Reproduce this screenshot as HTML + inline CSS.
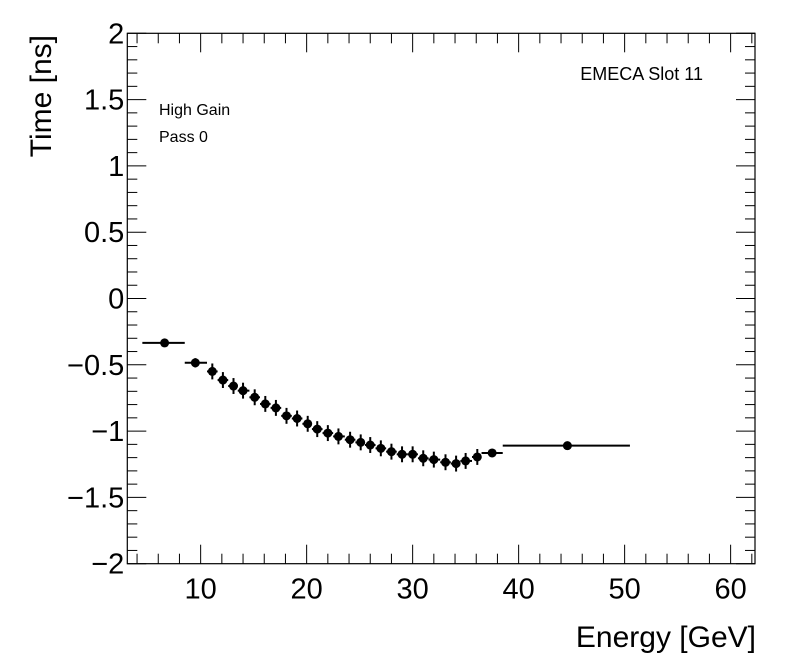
<!DOCTYPE html>
<html><head><meta charset="utf-8"><style>
html,body{margin:0;padding:0;background:#fff;}
svg{display:block;font-family:"Liberation Sans",sans-serif;}
</style></head><body>
<svg id="chart" width="796" height="672" viewBox="0 0 796 672" xmlns="http://www.w3.org/2000/svg">
<rect x="0" y="0" width="796" height="672" fill="#fff"/>
<g id="axes"></g>
<g id="marks"></g>
<text x="703" y="80" font-size="18" text-anchor="end">EMECA Slot 11</text>
<text x="159" y="115" font-size="16">High Gain</text>
<text x="159" y="142" font-size="16">Pass 0</text>
<text x="756" y="647" font-size="30" text-anchor="end">Energy [GeV]</text>
<text transform="translate(51,35) rotate(-90)" font-size="30" text-anchor="end">Time [ns]</text>
</svg>
<script>
const energies = [6.6, 9.5, 11.1, 12.1, 13.1, 14.0, 15.1, 16.1, 17.1, 18.1, 19.1, 20.1, 21.0, 22.0, 23.0, 24.1, 25.1, 26.0, 27.0, 28.0, 29.0, 30.0, 31.0, 32.0, 33.1, 34.1, 35.0, 36.1, 37.5, 44.6];
const times = [-0.335, -0.485, -0.55, -0.615, -0.66, -0.695, -0.745, -0.795, -0.825, -0.885, -0.905, -0.945, -0.985, -1.015, -1.04, -1.065, -1.085, -1.105, -1.13, -1.155, -1.175, -1.175, -1.205, -1.215, -1.235, -1.245, -1.225, -1.195, -1.165, -1.11];
const xLow = [4.5, 8.5, 10.6, 11.6, 12.6, 13.5, 14.6, 15.6, 16.6, 17.6, 18.6, 19.6, 20.5, 21.5, 22.5, 23.6, 24.6, 25.5, 26.5, 27.5, 28.5, 29.5, 30.5, 31.5, 32.6, 33.6, 34.5, 35.6, 36.5, 38.5];
const xHigh = [8.5, 10.6, 11.6, 12.6, 13.5, 14.6, 15.6, 16.6, 17.6, 18.6, 19.6, 20.5, 21.5, 22.5, 23.6, 24.6, 25.5, 26.5, 27.5, 28.5, 29.5, 30.5, 31.5, 32.6, 33.6, 34.5, 35.6, 36.5, 38.5, 50.5];
const yErr = [0.02, 0.035, 0.06, 0.06, 0.06, 0.06, 0.06, 0.06, 0.06, 0.06, 0.06, 0.06, 0.06, 0.06, 0.06, 0.06, 0.06, 0.06, 0.06, 0.06, 0.06, 0.06, 0.06, 0.06, 0.06, 0.06, 0.06, 0.06, 0.03, 0.02];
const xTicks = [10, 20, 30, 40, 50, 60];
const yTicks = [-2, -1.5, -1, -0.5, 0, 0.5, 1, 1.5, 2];
const yTickLabels = ["\u22122", "\u22121.5", "\u22121", "\u22120.5", "0", "0.5", "1", "1.5", "2"];

const L = 127.3, R = 755, T = 33.3, B = 563.7;
const XMIN = 3.08, XMAX = 62.3, YMIN = -2, YMAX = 2;
function sx(v){ return L + (v - XMIN) / (XMAX - XMIN) * (R - L); }
function sy(v){ return B - (v - YMIN) / (YMAX - YMIN) * (B - T); }
const NS = "http://www.w3.org/2000/svg";
function mk(tag, attrs, parent){ const e = document.createElementNS(NS, tag); for (const k in attrs) e.setAttribute(k, attrs[k]); parent.appendChild(e); return e; }
const axes = document.getElementById('axes');
const marks = document.getElementById('marks');

const frame = mk('rect', {x:L, y:T, width:R-L, height:B-T, fill:'none', stroke:'#000', 'stroke-width':1.2}, axes);



for (let v = 4; v <= 62; v += 2) {
  const major = v % 10 === 0;
  const len = major ? 19 : 10;
  const t1 = mk('line', {x1:sx(v), x2:sx(v), y1:B, y2:B-len, stroke:'#000', 'stroke-width':1}, axes);
  
  
  const t2 = mk('line', {x1:sx(v), x2:sx(v), y1:T, y2:T+len, stroke:'#000', 'stroke-width':1}, axes);
  
  
}
xTicks.forEach(v => {
  const t = mk('text', {x:sx(v), y:B+35, 'font-size':29, 'text-anchor':'middle'}, axes);
  t.textContent = v;
  
  
});
for (let i = -20; i <= 20; i++) {
  const v = i / 10;
  const major = i % 5 === 0;
  const len = major ? 19 : 10;
  const t1 = mk('line', {x1:L, x2:L+len, y1:sy(v), y2:sy(v), stroke:'#000', 'stroke-width':1}, axes);
  
  
  const t2 = mk('line', {x1:R, x2:R-len, y1:sy(v), y2:sy(v), stroke:'#000', 'stroke-width':1}, axes);
  
  
}
yTicks.forEach((v, i) => {
  const t = mk('text', {x:L-3, y:sy(v)+10, 'font-size':29, 'text-anchor':'end'}, axes);
  t.textContent = yTickLabels[i];
  
  
});

energies.forEach((e, i) => {
  const g = mk('g', {}, marks);
  
  
  const cx = sx(e), cy = sy(times[i]);
  mk('line', {x1:sx(xLow[i]), x2:sx(xHigh[i]), y1:cy, y2:cy, stroke:'#000', 'stroke-width':2}, g);
  mk('line', {x1:cx, x2:cx, y1:sy(times[i]-yErr[i]), y2:sy(times[i]+yErr[i]), stroke:'#000', 'stroke-width':2}, g);
  mk('circle', {cx:cx, cy:cy, r:4.5, fill:'#000'}, g);
});
</script>
</body></html>
